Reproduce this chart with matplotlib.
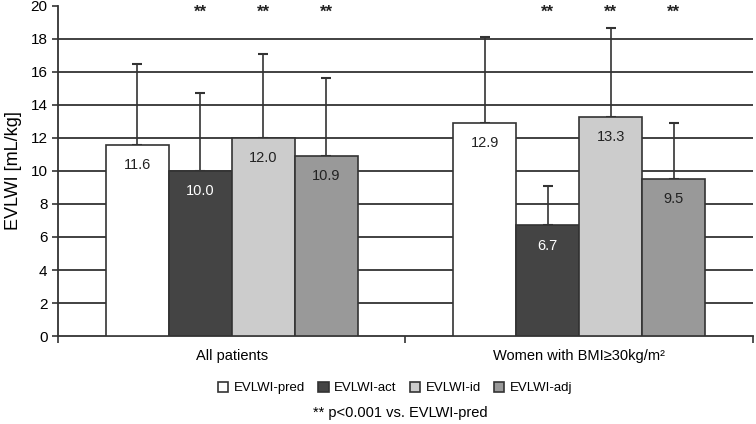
import numpy as np
import matplotlib.pyplot as plt
from matplotlib.patches import Patch

plt.rcParams['font.family'] = ['Liberation Sans', 'DejaVu Sans']

groups = ['All patients', 'Women with BMI≥30kg/m²']
series = ['EVLWI-pred', 'EVLWI-act', 'EVLWI-id', 'EVLWI-adj']
means = [[11.6, 12.9], [10.0, 6.7], [12.0, 13.3], [10.9, 9.5]]
sds = [[4.9, 5.2], [4.7, 2.4], [5.1, 5.35], [4.75, 3.4]]
stars = [['', ''], ['**', '**'], ['**', '**'], ['**', '**']]
colors = ['#ffffff', '#444444', '#cccccc', '#999999']
text_colors = ['#222222', '#ffffff', '#222222', '#222222']

fig = plt.figure(figsize=(7.56, 4.24), dpi=100)
ax = fig.add_axes([0.0767, 0.2075, 0.9193, 0.7785])

x = np.arange(len(groups))
w = 0.1815
edge = '#333333'

for i, s in enumerate(series):
    pos = x + (i - 1.5) * w
    ax.bar(pos, means[i], width=w, color=colors[i], edgecolor=edge,
           linewidth=1.2, zorder=3, label=s)
    ax.errorbar(pos, means[i], yerr=[np.zeros(len(groups)), sds[i]],
                fmt='none', ecolor=edge, elinewidth=1.2, capsize=3.5,
                capthick=1.5, zorder=2)
    for j in range(len(groups)):
        ax.annotate(f'{means[i][j]:.1f}', (pos[j], means[i][j]),
                    xytext=(0, -14.5), textcoords='offset points',
                    ha='center', va='center', fontsize=10.5,
                    color=text_colors[i], zorder=4)
        if stars[i][j]:
            ax.text(pos[j], 19.6, stars[i][j], ha='center', va='center',
                    fontsize=12, fontweight='bold', color='#222222')

ax.set_ylim(0, 20)
ax.set_xlim(-0.5, 1.5)
ax.set_yticks(range(0, 21, 2))
for yv in range(2, 20, 2):
    ax.axhline(yv, color=edge, linewidth=1.3, zorder=1)

ax.set_xticks(x)
ax.set_xticklabels(groups, fontsize=10.5)
ax.tick_params(axis='x', length=0, pad=9)
ax.set_xticks([-0.5, 0.5, 1.5], minor=True)
ax.tick_params(axis='x', which='minor', length=5, width=1.2, color=edge)
ax.tick_params(axis='y', length=4, width=1.2, color=edge, labelsize=11)
ax.set_ylabel('EVLWI [mL/kg]', fontsize=13, labelpad=6)

for sp in ['top', 'right']:
    ax.spines[sp].set_visible(False)
for sp in ['left', 'bottom']:
    ax.spines[sp].set_color(edge)
    ax.spines[sp].set_linewidth(1.3)

handles = [Patch(facecolor=c, edgecolor=edge, linewidth=1.2) for c in colors]
fig.legend(handles, series, loc='center', bbox_to_anchor=(0.5225, 0.085),
           ncol=4, frameon=False, fontsize=9.5, handlelength=0.8,
           handleheight=0.8, handletextpad=0.4, columnspacing=1.0)
fig.text(0.530, 0.027, '** p<0.001 vs. EVLWI-pred', ha='center',
         va='center', fontsize=10.5)

fig.savefig('out.png', dpi=100)
